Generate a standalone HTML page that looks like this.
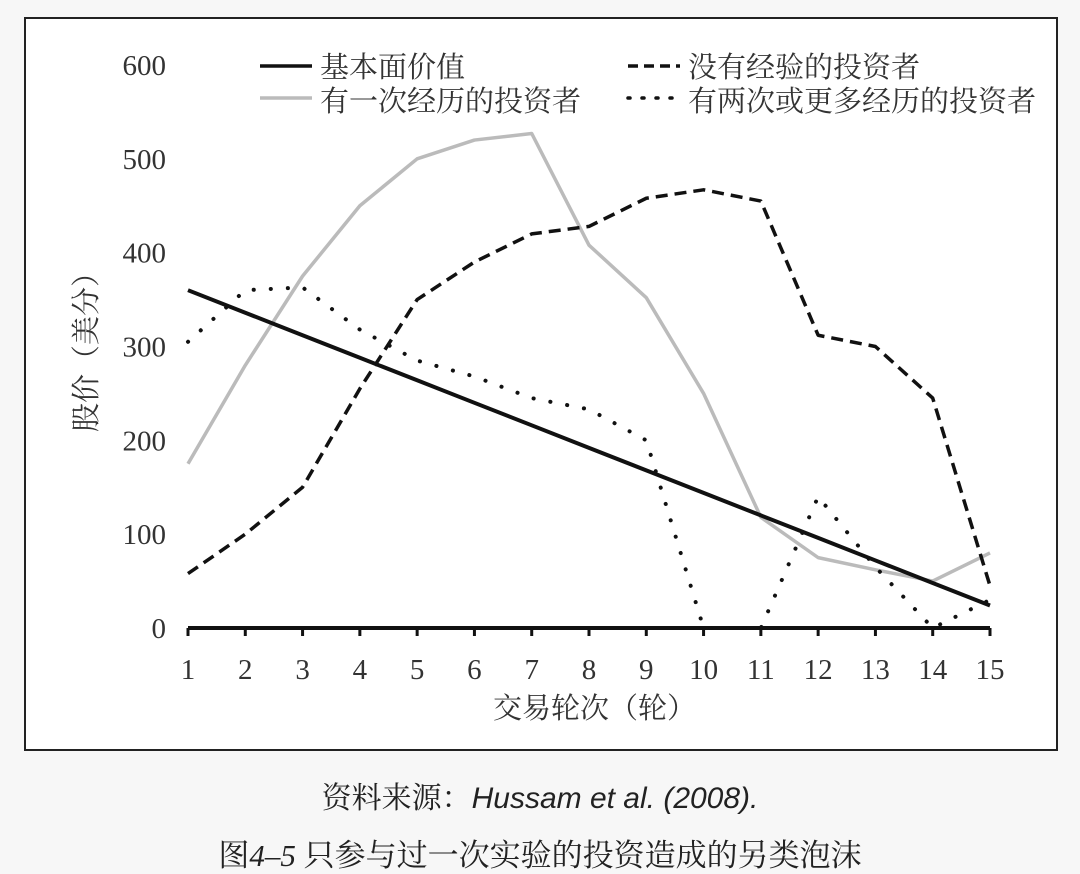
<!DOCTYPE html>
<html><head><meta charset="utf-8"><style>
body{margin:0;width:1080px;height:874px;background:#f7f7f7;font-family:"Liberation Serif","Noto Serif CJK SC",serif;}
svg{display:block}
</style></head><body>
<svg width="1080" height="874">
<rect x="25" y="18" width="1032" height="732" fill="#fff" stroke="#222" stroke-width="2"/>
<g id="axes"></g><g id="series"></g>
<g font-size="29" fill="#333" font-family="'Liberation Serif','Noto Serif CJK SC',serif">
<line x1="260" y1="66" x2="312" y2="66" stroke="#111" stroke-width="3.5"/><text x="320" y="77">基本面价值</text>
<line x1="628" y1="66" x2="680" y2="66" stroke="#111" stroke-width="3.5" stroke-dasharray="10,6"/><text x="688" y="77">没有经验的投资者</text>
<line x1="260" y1="98" x2="312" y2="98" stroke="#bbb" stroke-width="3.5"/><text x="320" y="111">有一次经历的投资者</text>
<line x1="628" y1="98" x2="680" y2="98" stroke="#111" stroke-width="3.5" stroke-dasharray="2,12" stroke-linecap="round"/><text x="688" y="111">有两次或更多经历的投资者</text>
</g>
<text x="493" y="718" font-size="29" fill="#333">交易轮次（轮）</text>
<text transform="translate(96,345) rotate(-90)" text-anchor="middle" font-size="29" fill="#333">股价（美分）</text>
<text x="540" y="808" text-anchor="middle" font-size="30" fill="#222">资料来源：<tspan font-family="'Liberation Sans',sans-serif" font-style="italic">Hussam et al. (2008).</tspan></text>
<text x="540" y="866" text-anchor="middle" font-size="31" fill="#222">图<tspan font-style="italic">4–5</tspan> 只参与过一次实验的投资造成的另类泡沫</text>
</svg>
<script>
const rounds=[1,2,3,4,5,6,7,8,9,10,11,12,13,14,15];
const yTicks=[0,100,200,300,400,500,600];
const fundamental=[360,336,312,288,264,240,216,192,168,144,120,96,72,48,24];
const inexperienced=[58,100,150,255,350,390,420,428,458,467,455,312,300,245,45];
const onceExperienced=[175,280,375,450,500,520,527,408,352,250,118,75,62,50,80];
const twiceExperienced=[305,360,363,318,285,268,245,233,200,0,0,140,65,0,30];
const NS="http://www.w3.org/2000/svg";
const xS=r=>188+(r-1)*(990-188)/14;
const yS=v=>628-v*(628-65)/600;
const axes=document.getElementById('axes'),ser=document.getElementById('series');
function mk(tag,at,parent){const e=document.createElementNS(NS,tag);for(const k in at)e.setAttribute(k,at[k]);parent.appendChild(e);return e;}
const ax=mk('line',{x1:xS(1),y1:yS(0),x2:xS(15),y2:yS(0),stroke:'#111','stroke-width':4},axes);


rounds.forEach(r=>{
 const t=mk('line',{x1:xS(r),y1:yS(0),x2:xS(r),y2:yS(0)+8,stroke:'#111','stroke-width':3},axes);
 
 
 const l=mk('text',{x:xS(r),y:679,'text-anchor':'middle','font-size':29,fill:'#333'},axes);l.textContent=r;
 
 
});
yTicks.forEach(v=>{
 const l=mk('text',{x:166,y:yS(v)+10,'text-anchor':'end','font-size':29,fill:'#333'},axes);l.textContent=v;
 
 
});
function line(data,st,name){
 const p=mk('polyline',Object.assign({points:data.map((v,i)=>xS(rounds[i])+','+yS(v)).join(' '),fill:'none','stroke-linejoin':'round'},st),ser);
 
 
}
line(onceExperienced,{stroke:'#bbb','stroke-width':3.5},'series-once-experienced');
line(inexperienced,{stroke:'#111','stroke-width':3.5,'stroke-dasharray':'12,7'},'series-inexperienced');
line(twiceExperienced,{stroke:'#111','stroke-width':4,'stroke-dasharray':'0.1,17','stroke-linecap':'round'},'series-twice-experienced');
line(fundamental,{stroke:'#111','stroke-width':4},'series-fundamental-value');
</script>
</body></html>
